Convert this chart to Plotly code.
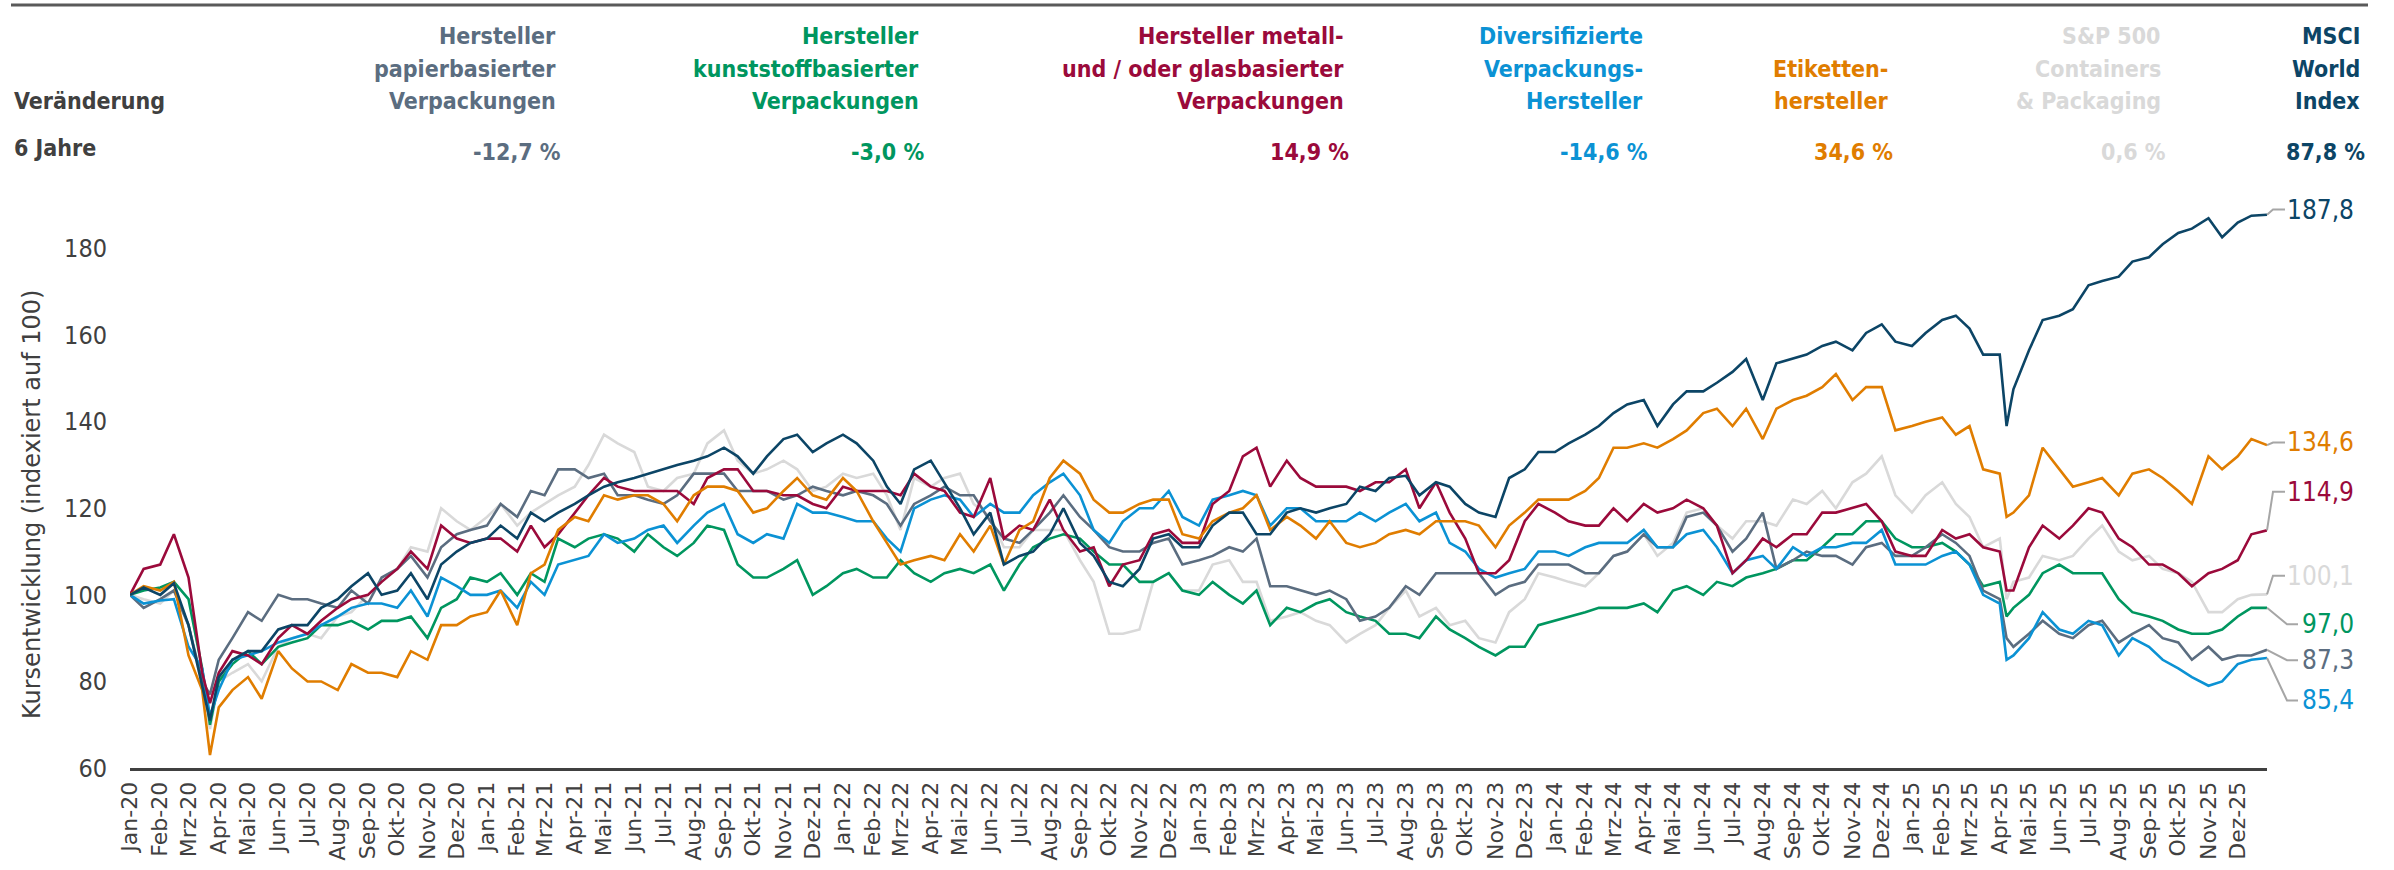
import plotly.graph_objects as go

# ---------------- data ----------------
MONTHS_DE = ["Jan", "Feb", "Mrz", "Apr", "Mai", "Jun", "Jul", "Aug", "Sep", "Okt", "Nov", "Dez"]
YEARS = [2020, 2021, 2022, 2023, 2024, 2025]

# observation dates: 1st and 15th of each month, the two crash lows, year end
dates = []
for yr in YEARS:
    for mo in range(1, 13):
        dates.append(f"{yr}-{mo:02d}-01")
        if (yr, mo) == (2025, 4):
            dates.append("2025-04-08")
        dates.append(f"{yr}-{mo:02d}-15")
        if (yr, mo) == (2020, 3):
            dates.append("2020-03-23")
dates.append("2025-12-31")

papier = [100, 97, 99, 101, 93, 80, 77, 85, 90, 96, 94, 100, 99, 99, 98, 97, 101, 98, 104, 106, 109, 104, 111, 114, 115,
          116, 121, 118, 124, 123, 129, 129, 127, 128, 123, 123, 122, 121, 123, 128, 128, 128, 124, 124, 124, 122, 123, 125, 124,
          123, 124, 123, 121, 116, 121, 123, 125, 123, 123, 117, 113, 112, 115, 119, 123, 118, 115, 111, 110, 110, 112, 113, 107,
          108, 109, 111, 110, 113, 102, 102, 101, 100, 101, 99, 94, 95, 97, 102, 100, 105, 105, 105, 105, 100, 102, 103, 107,
          107, 107, 105, 105, 109, 110, 114, 111, 111, 118, 119, 116, 110, 113, 119, 106, 108, 110, 109, 109, 107, 111, 112, 109,
          109, 111, 114, 112, 109, 101, 99, 90, 88, 91, 94, 91, 90, 93, 94, 89, 91, 93, 90, 89, 85, 88, 85, 86, 86,
          87.3]

kunststoff = [100, 101, 101.7, 103, 99, 83, 70, 80, 84, 87, 84, 88, 89, 90, 93, 93, 94, 92, 94, 94, 95, 90, 97, 99, 104,
              103, 105, 100, 105, 103, 113, 111, 113, 114, 113, 110, 114, 111, 109, 112, 116, 115, 107, 104, 104, 106, 108, 100, 102,
              105, 106, 104, 104, 108, 105, 103, 105, 106, 105, 107, 101, 107, 111, 113, 114, 113, 110, 107, 107, 103, 103, 105, 101,
              100, 103, 100, 98, 101, 93, 97, 96, 98, 99, 96, 95, 94, 91, 91, 90, 95, 92, 90, 88, 86, 88, 88, 93,
              94, 95, 96, 97, 97, 97, 98, 96, 101, 102, 100, 103, 102, 104, 105, 106, 108, 108, 111, 114, 114, 117, 117, 113,
              111, 111, 112, 110, 107, 102, 103, 95, 97, 100, 105, 107, 105, 105, 105, 99, 96, 95, 94, 92, 91, 91, 92, 95, 97,
              97.0]

metall = [100, 106, 107, 114, 104, 82, 75, 82, 87, 86, 84, 90, 93, 91, 94, 97, 99, 100, 103, 106, 110, 106, 116, 113, 112,
          113, 113, 110, 116, 111, 114, 119, 123, 127, 125, 124, 124, 124, 124, 121, 127, 129, 129, 124, 124, 123, 123, 121, 120,
          125, 124, 124, 124, 123, 128, 125, 124, 119, 118, 127, 113, 116, 115, 122, 115, 110, 111, 102, 107, 108, 114, 115, 112,
          112, 121, 124, 132, 134, 125, 131, 127, 125, 125, 125, 124, 126, 126, 129, 120, 126, 119, 113, 105, 105, 108, 117, 121,
          119, 117, 116, 116, 120, 117, 121, 119, 120, 122, 120, 116, 105, 108, 113, 111, 114, 114, 119, 119, 120, 121, 117, 110,
          109, 109, 115, 113, 114, 111, 110, 101, 101, 111, 116, 113, 116, 120, 119, 113, 111, 107, 107, 105, 102, 105, 106, 108, 114,
          114.9]

divers = [100, 98, 98.7, 99, 88, 83, 72, 78, 85, 86, 87, 89, 90, 91, 93, 95, 97, 98, 98, 97, 101, 95, 104, 102, 100,
          100, 101, 97, 103, 100, 107, 108, 109, 114, 112, 113, 115, 116, 112, 116, 119, 121, 114, 112, 114, 113, 121, 119, 119,
          118, 117, 117, 113, 110, 120, 122, 123, 122, 118, 121, 119, 119, 123, 126, 128, 123, 115, 112, 117, 120, 120, 124, 118,
          116, 122, 123, 124, 123, 116, 120, 120, 117, 117, 117, 119, 117, 119, 121, 117, 119, 112, 110, 106, 104, 105, 106, 110,
          110, 109, 111, 112, 112, 112, 115, 111, 111, 114, 115, 111, 105, 108, 109, 106, 111, 109, 111, 111, 112, 112, 115, 107,
          107, 107, 109, 110, 107, 100, 98, 85, 86, 90, 96, 92, 91, 94, 93, 86, 90, 88, 85, 83, 81, 79, 80, 84, 85,
          85.4]

etiketten = [100, 102, 101, 103, 86, 78, 63, 74, 78, 81, 76, 87, 83, 80, 80, 78, 84, 82, 82, 81, 87, 85, 93, 93, 95,
             96, 101, 93, 105, 107, 115, 118, 117, 123, 122, 123, 123, 121, 117, 123, 125, 125, 124, 119, 120, 124, 127, 123, 122,
             127, 124, 117, 112, 107, 108, 109, 108, 114, 110, 116, 107, 115, 117, 127, 131, 128, 122, 119, 119, 121, 122, 122, 114,
             113, 117, 119, 120, 123, 115, 118, 116, 113, 117, 112, 111, 112, 114, 115, 114, 117, 117, 117, 116, 111, 116, 119, 122,
             122, 122, 124, 127, 134, 134, 135, 134, 136, 138, 142, 143, 139, 143, 136, 143, 145, 146, 148, 151, 145, 148, 148, 138,
             139, 140, 141, 137, 139, 129, 128, 118, 119, 123, 134, 129, 125, 126, 127, 123, 128, 129, 127, 124, 121, 132, 129, 132, 136,
             134.6]

sp500cp = [100, 99, 98, 101, 93, 79, 69, 80, 82, 84, 80, 88, 90, 91, 90, 95, 96, 100, 103, 106, 111, 110, 120, 117, 115,
           118, 121, 116, 119, 121, 123, 125, 130, 137, 135, 133, 125, 124, 127, 128, 135, 138, 131, 128, 129, 131, 129, 124, 125,
           128, 127, 128, 123, 115, 127, 125, 127, 128, 121, 118, 111, 111, 115, 115, 115, 108, 103, 91, 91, 92, 103, 105, 101,
           101, 107, 108, 103, 103, 94, 95, 96, 94, 93, 89, 91, 93, 97, 101, 95, 97, 93, 94, 90, 89, 96, 99, 105,
           104, 103, 102, 105, 109, 110, 114, 109, 112, 119, 120, 116, 113, 117, 117, 116, 122, 121, 124, 120, 126, 128, 132, 123,
           119, 123, 126, 121, 118, 111, 113, 99, 103, 104, 109, 108, 109, 113, 116, 110, 108, 109, 106, 105, 103, 96, 96, 99, 100,
           100.1]

msci = [100, 101.7, 100, 102.7, 93, 79, 71, 81, 85, 87, 87, 92, 93, 93, 97, 99, 102, 105, 100, 101, 105, 99, 107, 110, 112,
        113, 116, 113, 119, 117, 119, 121, 123, 125, 126, 127, 128, 129, 130, 131, 132, 134, 132, 128, 132, 136, 137, 133, 135,
        137, 135, 131, 125, 121, 129, 131, 126, 120, 114, 119, 107, 109, 110, 114, 120, 112, 109, 103, 102, 106, 113, 114, 111,
        111, 116, 119, 119, 114, 114, 119, 120, 119, 120, 121, 125, 124, 127, 127.5, 123, 126, 125, 121, 119, 118, 127, 129, 133,
        133, 135, 137, 139, 142, 144, 145, 139, 144, 147, 147, 149, 151.5, 154.5, 145, 153.5, 154.5, 155.5, 157.5, 158.5, 156.5, 160.5, 162.5, 158.5,
        157.5, 160.5, 163.5, 164.5, 161.5, 155.5, 155.5, 139, 147.5, 156.5, 163.5, 164.5, 166, 171.5, 172.5, 173.5, 177, 178, 181, 183.6, 184.6, 187, 182.6, 186, 187.6,
        187.8]

HEADER_LINES = {
    "papier": ["Hersteller", "papierbasierter", "Verpackungen"],
    "kunststoff": ["Hersteller", "kunststoffbasierter", "Verpackungen"],
    "metall": ["Hersteller metall-", "und / oder glasbasierter", "Verpackungen"],
    "divers": ["Diversifizierte", "Verpackungs-", "Hersteller"],
    "etiketten": ["", "Etiketten-", "hersteller"],
    "sp": ["S&P 500", "Containers", "& Packaging"],
    "msci": ["MSCI", "World", "Index"],
}
CHANGE_6Y = {"papier": "-12,7 %", "kunststoff": "-3,0 %", "metall": "14,9 %", "divers": "-14,6 %",
             "etiketten": "34,6 %", "sp": "0,6 %", "msci": "87,8 %"}
SERIES = {"papier": papier, "kunststoff": kunststoff, "metall": metall, "divers": divers,
          "etiketten": etiketten, "sp": sp500cp, "msci": msci}

# ---------------- styling ----------------
COLORS = {"papier": "#5b6d80", "kunststoff": "#00965f", "metall": "#9b0a3b", "divers": "#0b92d4",
          "etiketten": "#e07d00", "sp": "#d9d9d9", "msci": "#0c4566"}
HEADER_RIGHT_PX = {"papier": 558, "kunststoff": 921, "metall": 1346, "divers": 1645,
                   "etiketten": 1890, "sp": 2163, "msci": 2362}
# end-label layout: (label y in data units, leader bend x px, leader end x px)
END_LABEL = {"msci": (189.0, 2273, 2285), "etiketten": (135.2, 2273, 2285), "metall": (123.8, 2273, 2285),
             "sp": (104.4, 2273, 2285), "kunststoff": (93.2, 2287, 2298), "papier": (84.9, 2287, 2298),
             "divers": (75.6, 2287, 2298)}
DRAW_ORDER = ["sp", "kunststoff", "papier", "divers", "metall", "etiketten", "msci"]

W, H = 2394, 870
ML, MR, MT, MB = 130, 127, 162, 102
PW, PH = W - ML - MR, H - MT - MB
YMIN, YMAX = 60, 200

def px_x(px):
    return (px - ML) / PW

def px_y(py):
    return (H - MB - py) / PH

TICK_FONT = "DejaVu Sans Condensed, DejaVu Sans, sans-serif"
HEAD_FONT = "DejaVu Sans Condensed, DejaVu Sans, sans-serif"
HEAD_SIZE = 23
DARK = "#404040"

fig = go.Figure()
for key in DRAW_ORDER:
    fig.add_trace(go.Scatter(x=dates, y=SERIES[key], mode="lines",
                             line=dict(color=COLORS[key], width=2.6), hoverinfo="skip"))

tickvals = [f"{yr}-{mo:02d}-01" for yr in YEARS for mo in range(1, 13)]
ticktext = [f"{MONTHS_DE[mo - 1]}-{str(yr)[2:]}" for yr in YEARS for mo in range(1, 13)]

fig.update_xaxes(type="date", range=[dates[0], dates[-1]], tickmode="array", tickvals=tickvals,
                 ticktext=ticktext, tickangle=-90, showgrid=False, zeroline=False,
                 showline=True, linecolor=DARK, linewidth=3, ticks="", ticklabelstandoff=2,
                 tickfont=dict(family="DejaVu Sans, sans-serif", size=22, color=DARK))
fig.update_yaxes(range=[YMIN, YMAX], tickmode="array", tickvals=[60, 80, 100, 120, 140, 160, 180],
                 showgrid=False, zeroline=False, showline=False, ticks="", ticklabelstandoff=22,
                 tickfont=dict(family=TICK_FONT, size=25, color=DARK))

ann = []
shapes = []
# top rule
shapes.append(dict(type="line", xref="paper", yref="paper", x0=px_x(11), x1=px_x(2368),
                   y0=px_y(5), y1=px_y(5), line=dict(color="#5a5a5a", width=3)))
# row labels
ann.append(dict(text="<b>Veränderung</b>", xref="paper", yref="paper", x=px_x(12), y=px_y(101),
                xanchor="left", yanchor="middle", showarrow=False,
                font=dict(family=HEAD_FONT, size=HEAD_SIZE, color=DARK)))
ann.append(dict(text="<b>6 Jahre</b>", xref="paper", yref="paper", x=px_x(12), y=px_y(148),
                xanchor="left", yanchor="middle", showarrow=False,
                font=dict(family=HEAD_FONT, size=HEAD_SIZE, color=DARK)))
LINE_Y = [36, 69, 101]
for key, lines in HEADER_LINES.items():
    for txt, ly in zip(lines, LINE_Y):
        if not txt:
            continue
        ann.append(dict(text=f"<b>{txt}</b>", xref="paper", yref="paper",
                        x=px_x(HEADER_RIGHT_PX[key]), y=px_y(ly), xanchor="right", yanchor="middle",
                        showarrow=False, font=dict(family=HEAD_FONT, size=HEAD_SIZE, color=COLORS[key])))
    ann.append(dict(text=f"<b>{CHANGE_6Y[key]}</b>", xref="paper", yref="paper",
                    x=px_x(HEADER_RIGHT_PX[key] + 5), y=px_y(152), xanchor="right", yanchor="middle",
                    showarrow=False, font=dict(family=HEAD_FONT, size=HEAD_SIZE, color=COLORS[key])))

# y-axis title
ann.append(dict(text="Kursentwicklung (indexiert auf 100)", xref="paper", yref="paper",
                x=px_x(32), y=px_y(505), textangle=-90, showarrow=False,
                xanchor="center", yanchor="middle",
                font=dict(family="DejaVu Sans, sans-serif", size=24, color=DARK)))

# end labels with leader lines
for key, (ly, xb, xe) in END_LABEL.items():
    last = SERIES[key][-1]
    shapes.append(dict(type="path", xref="paper", yref="y",
                       path=f"M {px_x(ML + PW)},{last} L {px_x(xb)},{ly} L {px_x(xe)},{ly}",
                       line=dict(color="#a6a6a6", width=2)))
    ann.append(dict(text=f"{last:.1f}".replace(".", ","), xref="paper", yref="y",
                    x=px_x(2356), y=ly, xanchor="right", yanchor="middle", showarrow=False,
                    font=dict(family=TICK_FONT, size=26, color=COLORS[key])))

fig.update_layout(width=W, height=H, margin=dict(l=ML, r=MR, t=MT, b=MB, autoexpand=False),
                  paper_bgcolor="white", plot_bgcolor="white", showlegend=False,
                  annotations=ann, shapes=shapes)

fig.write_html("out.html", config={"displayModeBar": False},
               post_script="document.body.style.margin='0';")
